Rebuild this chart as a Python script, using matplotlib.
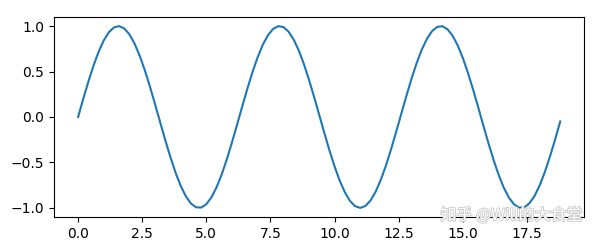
import matplotlib
matplotlib.use("Agg")
import matplotlib.pyplot as plt
import matplotlib.patheffects as pe

x_vals = [round(i * 0.2, 1) for i in range(95)]
y_vals = [
    0.0000, 0.1987, 0.3894, 0.5646, 0.7174, 0.8415, 0.9320, 0.9854, 0.9996, 0.9738,
    0.9093, 0.8085, 0.6755, 0.5155, 0.3350, 0.1411, -0.0584, -0.2555, -0.4425, -0.6119,
    -0.7568, -0.8716, -0.9516, -0.9937, -0.9962, -0.9589, -0.8835, -0.7728, -0.6313, -0.4646,
    -0.2794, -0.0831, 0.1165, 0.3115, 0.4941, 0.6570, 0.7937, 0.8987, 0.9679, 0.9985,
    0.9894, 0.9407, 0.8546, 0.7344, 0.5849, 0.4121, 0.2229, 0.0248, -0.1743, -0.3665,
    -0.5440, -0.6999, -0.8278, -0.9228, -0.9809, -1.0000, -0.9792, -0.9193, -0.8228, -0.6933,
    -0.5366, -0.3580, -0.1655, 0.0336, 0.2319, 0.4202, 0.5923, 0.7405, 0.8591, 0.9437,
    0.9906, 0.9980, 0.9655, 0.8946, 0.7880, 0.6503, 0.4860, 0.3028, 0.1074, -0.0923,
    -0.2883, -0.4727, -0.6384, -0.7787, -0.8877, -0.9614, -0.9969, -0.9926, -0.9488, -0.8672,
    -0.7510, -0.6045, -0.4343, -0.2466, -0.0492,
]

fig = plt.figure(figsize=(6.02, 2.43), dpi=100)
ax = fig.add_axes([0.0897, 0.107, 0.881, 0.823])
ax.plot(x_vals, y_vals, color="#1f77b4", linewidth=1.5)

# Zhihu watermark in the lower right corner
fig.text(0.968, 0.113, "知乎 @Will的大食堂", ha="right", va="center", fontsize=11.5,
         color="white", family=["Noto Sans CJK SC", "DejaVu Sans"],
         path_effects=[pe.withStroke(linewidth=1.2, foreground="#c8c8c8")])

plt.savefig("out.png", dpi=100)
